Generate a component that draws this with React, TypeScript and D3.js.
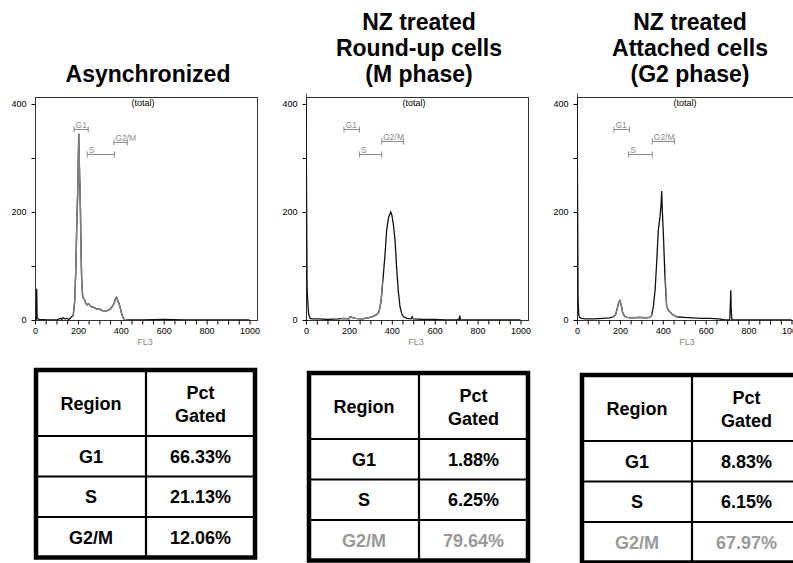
import React, { useEffect, useRef } from "react";
import * as d3 from "d3";

// panel titles
const titles = [
  ["Asynchronized"],
  ["NZ treated", "Round-up cells", "(M phase)"],
  ["NZ treated", "Attached cells", "(G2 phase)"],
];

// FL3 histograms (channel, count)
const asyncChannel = [0, 6, 8, 10, 14, 20, 60, 100, 120, 125, 130, 140, 150, 160, 170, 178, 185, 190, 195, 200, 204, 206, 209, 212, 215, 218, 222, 226, 230, 236, 242, 250, 260, 270, 280, 290, 300, 310, 320, 330, 340, 350, 360, 368, 374, 380, 386, 392, 398, 404, 410, 416, 425, 500, 600, 700, 800, 1000];
const asyncCount = [0, 0, 58, 4, 2, 1, 0, 0, 3, 1, 4, 2, 3, 1, 6, 8, 35, 90, 180, 250, 345, 300, 250, 200, 120, 70, 45, 40, 38, 32, 28, 30, 25, 24, 22, 20, 21, 18, 17, 16, 18, 20, 25, 30, 38, 42, 36, 30, 22, 12, 5, 1, 0, 0, 1, 0, 0, 0];

const roundUpChannel = [0, 3, 5, 8, 12, 16, 20, 30, 60, 100, 150, 175, 200, 205, 230, 260, 290, 310, 320, 330, 340, 350, 360, 370, 376, 385, 395, 400, 408, 415, 422, 430, 438, 446, 455, 470, 490, 495, 500, 550, 600, 650, 700, 714, 717, 720, 760, 1000];
const roundUpCount = [420, 200, 60, 35, 12, 6, 3, 2, 2, 1, 2, 3, 2, 6, 3, 2, 4, 6, 8, 10, 15, 35, 80, 130, 166, 190, 200, 195, 175, 148, 100, 55, 25, 12, 6, 3, 2, 6, 2, 1, 1, 0, 0, 2, 8, 0, 0, 0];

const attachedChannel = [0, 3, 5, 8, 12, 20, 40, 80, 120, 150, 170, 180, 188, 194, 200, 206, 212, 220, 230, 260, 290, 320, 340, 348, 356, 364, 372, 379, 387, 392, 395, 398, 402, 410, 418, 426, 434, 445, 465, 500, 540, 580, 620, 660, 676, 690, 712, 715, 717, 719, 722, 760, 1000];
const attachedCount = [420, 200, 40, 10, 5, 3, 2, 2, 3, 4, 6, 10, 22, 32, 36, 28, 15, 8, 5, 4, 5, 4, 5, 8, 25, 55, 110, 166, 191, 215, 239, 200, 166, 80, 25, 18, 15, 10, 6, 5, 4, 3, 3, 2, 1, 0, 0, 30, 55, 20, 0, 0, 0];

// channel ranges where the trace is drawn in gray
const asyncGray = [[178, 430]];
const roundUpGray = [[160, 358]];
const attachedGray = [[165, 350], [412, 470]];

// gate markers: [from, to, level]
const gateNames = ["G1", "S", "G2/M"];
const asyncGates = [[182, 248, 353], [244, 370, 307], [368, 430, 330]];
const roundUpGates = [[177, 249, 353], [249, 353, 307], [353, 454, 332]];
const attachedGates = [[172, 244, 353], [241, 351, 307], [351, 454, 332]];

const xTicks = [0, 50, 100, 150, 200, 250, 300, 350, 400, 450, 500, 550, 600, 650, 700, 750, 800, 850, 900, 950, 1000];
const yTicks = [0, 100, 200, 300, 400];

// tables
const regionLabels = ["G1", "S", "G2/M"];
const asyncPct = ["66.33%", "21.13%", "12.06%"];
const roundUpPct = ["1.88%", "6.25%", "79.64%"];
const attachedPct = ["8.83%", "6.15%", "67.97%"];
const grayRows = [[], [2], [2]];

const panels = [
  { channel: asyncChannel, count: asyncCount, gray: asyncGray, gates: asyncGates, pct: asyncPct },
  { channel: roundUpChannel, count: roundUpCount, gray: roundUpGray, gates: roundUpGates, pct: roundUpPct },
  { channel: attachedChannel, count: attachedCount, gray: attachedGray, gates: attachedGates, pct: attachedPct },
];

const width = 793;
const height = 563;
const font = "Liberation Sans, Arial, sans-serif";
const panelX = [35, 306, 577];
const plotTop = 97;
const plotW = 222;
const tableLeft = [36, 309, 582];
const tableTop = [370, 373, 375];

const App = () => {
  const ref = useRef<SVGSVGElement>(null);

  useEffect(() => {
    const svg = d3.select(ref.current);
    svg.selectAll("*").remove();

    panels.forEach((p, i) => {
      const ox = panelX[i];
      const x = d3.scaleLinear().domain([0, 1000]).range([ox, ox + 214.5]);
      const y = d3.scaleLinear().domain([0, 400]).range([320, 104]);
      const g = svg.append("g");

      // title
      const lines = titles[i];
      lines.forEach((t, k) => {
        g.append("text")
          .attr("x", ox + plotW / 2 + 2)
          .attr("y", 82 - (lines.length - 1 - k) * 26)
          .attr("text-anchor", "middle")
          .attr("font-family", font)
          .attr("font-weight", "bold")
          .attr("font-size", 23)
          .text(t);
      });

      // plot frame
      g.append("rect")
        .attr("x", ox + 0.5)
        .attr("y", plotTop + 0.5)
        .attr("width", plotW)
        .attr("height", 320 - plotTop)
        .attr("fill", "none")
        .attr("stroke", "#333")
        .attr("stroke-width", 1);

      const defs = g.append("defs");
      defs
        .append("clipPath")
        .attr("id", `plot-${i}`)
        .append("rect")
        .attr("x", ox)
        .attr("y", plotTop - 4)
        .attr("width", plotW)
        .attr("height", 320 - plotTop + 4);

      const line = d3
        .line<number>()
        .x((d, k) => x(p.channel[k]))
        .y((d) => y(d));

      g.append("path")
        .attr("d", line(p.count))
        .attr("clip-path", `url(#plot-${i})`)
        .attr("fill", "none")
        .attr("stroke", "#111")
        .attr("stroke-width", 1.3);

      p.gray.forEach((r, k) => {
        defs
          .append("clipPath")
          .attr("id", `gray-${i}-${k}`)
          .append("rect")
          .attr("x", x(r[0]))
          .attr("y", plotTop)
          .attr("width", x(r[1]) - x(r[0]))
          .attr("height", 320 - plotTop);
        g.append("path")
          .attr("d", line(p.count))
          .attr("clip-path", `url(#gray-${i}-${k})`)
          .attr("fill", "none")
          .attr("stroke", "#808080")
          .attr("stroke-width", 1.5);
      });

      // gate markers
      p.gates.forEach((gt, k) => {
        const gy = Math.round(y(gt[2])) + 0.5;
        const gg = g.append("g").attr("stroke", "#8c8c8c").attr("stroke-width", 1);
        gg.append("line").attr("x1", x(gt[0])).attr("x2", x(gt[1])).attr("y1", gy).attr("y2", gy);
        [gt[0], gt[1]].forEach((v) => {
          gg.append("line").attr("x1", x(v)).attr("x2", x(v)).attr("y1", gy - 3).attr("y2", gy + 3);
        });
        g.append("text")
          .attr("x", x(gt[0]) + 1.5)
          .attr("y", gy - 2)
          .attr("font-family", font)
          .attr("font-size", 8.5)
          .attr("fill", "#8c8c8c")
          .text(gateNames[k]);
      });

      g.append("text")
        .attr("x", ox + 108)
        .attr("y", 106)
        .attr("text-anchor", "middle")
        .attr("font-family", font)
        .attr("font-size", 9)
        .text("(total)");

      // axes
      g.append("g")
        .attr("transform", "translate(0,320.5)")
        .call(
          d3
            .axisBottom(x)
            .tickValues(xTicks)
            .tickSize(4)
            .tickPadding(3)
            .tickFormat((d) => (+d % 200 === 0 ? String(d) : ""))
        )
        .call((a) => a.select(".domain").remove())
        .attr("font-family", font)
        .attr("font-size", 9);

      g.append("g")
        .attr("transform", `translate(${ox + 0.5},0)`)
        .call(
          d3
            .axisLeft(y)
            .tickValues(yTicks)
            .tickSize(4)
            .tickPadding(5)
            .tickFormat((d) => (+d % 200 === 0 ? String(d) : ""))
        )
        .call((a) => a.select(".domain").remove())
        .attr("font-family", font)
        .attr("font-size", 9);

      g.append("text")
        .attr("x", ox + 110)
        .attr("y", 345)
        .attr("text-anchor", "middle")
        .attr("font-family", font)
        .attr("font-size", 9)
        .attr("fill", "#888")
        .text("FL3");

      // table
      const tx = tableLeft[i];
      const ty = tableTop[i];
      const tw = 219;
      const split = 110;
      const rowY = [ty, ty + 66, ty + 106.5, ty + 147, ty + 187.5];
      const t = g.append("g").attr("font-family", font).attr("font-weight", "bold").attr("font-size", 18);

      t.append("rect")
        .attr("x", tx)
        .attr("y", ty)
        .attr("width", tw)
        .attr("height", rowY[4] - ty)
        .attr("fill", "#fff")
        .attr("stroke", "#000")
        .attr("stroke-width", 4.5);
      t.append("line")
        .attr("x1", tx + split)
        .attr("x2", tx + split)
        .attr("y1", ty)
        .attr("y2", rowY[4])
        .attr("stroke", "#000")
        .attr("stroke-width", 2.2);
      rowY.slice(1, 4).forEach((ry) => {
        t.append("line")
          .attr("x1", tx)
          .attr("x2", tx + tw)
          .attr("y1", ry)
          .attr("y2", ry)
          .attr("stroke", "#000")
          .attr("stroke-width", 2.2);
      });

      const c1 = tx + split / 2;
      const c2 = tx + split + (tw - split) / 2;
      const hc = (rowY[0] + rowY[1]) / 2;
      t.append("text").attr("x", c1).attr("y", hc + 6.5).attr("text-anchor", "middle").text("Region");
      t.append("text").attr("x", c2).attr("y", hc - 4).attr("text-anchor", "middle").text("Pct");
      t.append("text").attr("x", c2).attr("y", hc + 19).attr("text-anchor", "middle").text("Gated");

      regionLabels.forEach((r, k) => {
        const cy = (rowY[k + 1] + rowY[k + 2]) / 2 + 6.5;
        const fill = grayRows[i].includes(k) ? "#999" : "#000";
        t.append("text").attr("x", c1).attr("y", cy).attr("text-anchor", "middle").attr("fill", fill).text(r);
        t.append("text").attr("x", c2).attr("y", cy).attr("text-anchor", "middle").attr("fill", fill).text(p.pct[k]);
      });
    });
  }, []);

  return (
    <svg
      ref={ref}
      width={width}
      height={height}
      style={{ position: "absolute", left: 0, top: 0, background: "#fff" }}
    />
  );
};

export default App;
